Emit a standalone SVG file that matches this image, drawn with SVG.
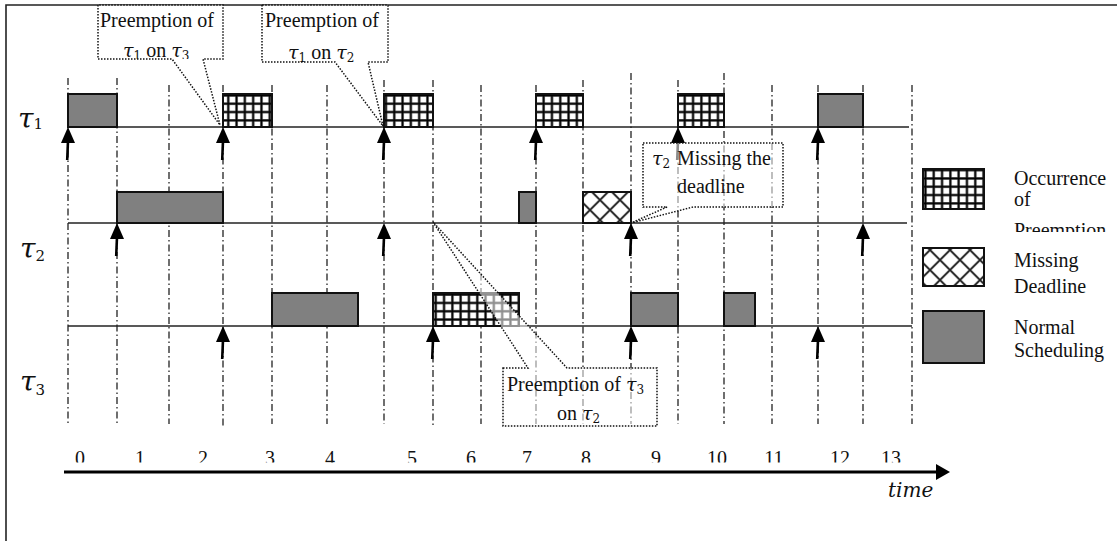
<svg xmlns="http://www.w3.org/2000/svg" width="1117" height="541" viewBox="0 0 1117 541">
  <style>
    .frame { fill: none; stroke: #222; stroke-width: 1.6; }
    .grid line { stroke: #222; stroke-width: 1.3; stroke-dasharray: 7 3 1.5 3; }
    .base { stroke: #222; stroke-width: 1.6; }
    .run { fill: #808080; stroke: #111; stroke-width: 2; }
    .pre { fill: url(#grid); stroke: #111; stroke-width: 2; }
    .miss { fill: url(#diamond); stroke: #111; stroke-width: 2; }
    .rel polygon { fill: #000; }
    .rel line { stroke: #000; stroke-width: 2.6; }
    .note { fill: #fff; fill-opacity: 0.55; stroke: #111; stroke-width: 1.5; stroke-dasharray: 1.5 1.5; }
    .t { font-family: "Liberation Serif", "Times New Roman", serif; font-size: 20px; fill: #111; }
    .g { font-family: "DejaVu Serif", serif; font-style: italic; font-size: 19px; }
    .s { font-family: "DejaVu Serif", serif; font-style: normal; font-size: 12px; }
    .lab { font-family: "DejaVu Serif", serif; font-style: italic; font-size: 28px; fill: #111; }
    .labs { font-family: "DejaVu Serif", serif; font-style: normal; font-size: 15px; }
    .axis { stroke: #000; stroke-width: 3.2; }
  </style>
  <defs>
    <pattern id="grid" width="8.3" height="8.3" patternUnits="userSpaceOnUse">
      <rect width="8.3" height="8.3" fill="#fff"/>
      <path d="M4.15,0 V8.3 M0,4.15 H8.3" stroke="#888" stroke-width="2.9"/>
      <path d="M4.15,0 V8.3 M0,4.15 H8.3" stroke="#000" stroke-width="1.7"/>
    </pattern>
    <pattern id="diamond" width="20" height="20" patternUnits="userSpaceOnUse">
      <rect width="20" height="20" fill="#fff"/>
      <path d="M0,0 L20,20 M20,0 L0,20" stroke="#888" stroke-width="2.6"/>
      <path d="M0,0 L20,20 M20,0 L0,20" stroke="#222" stroke-width="1.3"/>
    </pattern>
    <clipPath id="c1"><rect x="98" y="5" width="125" height="54"/></clipPath>
    <clipPath id="c2"><rect x="262" y="5" width="126" height="57"/></clipPath>
    <clipPath id="c4"><rect x="503" y="368" width="154" height="58"/></clipPath>
    <clipPath id="cnum"><rect x="0" y="430" width="1117" height="32.5"/></clipPath>
    <clipPath id="cleg"><rect x="1000" y="160" width="117" height="72"/></clipPath>
  </defs>

  <!-- outer frame (left and top edges) -->
  <path class="frame" d="M6,541 V5 H1117"/>

  <!-- time slot separators -->
  <g id="grid-lines" class="grid">
    <line x1="68" y1="78" x2="68" y2="424"/>
    <line x1="117" y1="78" x2="117" y2="424"/>
    <line x1="169" y1="85" x2="169" y2="424"/>
    <line x1="223" y1="85" x2="223" y2="427"/>
    <line x1="272" y1="85" x2="272" y2="424"/>
    <line x1="327" y1="85" x2="327" y2="424"/>
    <line x1="384" y1="80" x2="384" y2="424"/>
    <line x1="433" y1="80" x2="433" y2="427"/>
    <line x1="481" y1="85" x2="481" y2="424"/>
    <line x1="536" y1="85" x2="536" y2="424"/>
    <line x1="583" y1="80" x2="583" y2="424"/>
    <line x1="631" y1="73" x2="631" y2="424"/>
    <line x1="678" y1="80" x2="678" y2="424"/>
    <line x1="724" y1="73" x2="724" y2="424"/>
    <line x1="772" y1="85" x2="772" y2="424"/>
    <line x1="818" y1="85" x2="818" y2="424"/>
    <line x1="863" y1="85" x2="863" y2="424"/>
    <line x1="912" y1="85" x2="912" y2="424"/>
  </g>

  <!-- task 1 -->
  <g id="task1">
    <text class="lab" x="18" y="128">τ<tspan class="labs" dy="1">1</tspan></text>
    <line class="base" x1="68" y1="127" x2="909" y2="127"/>
    <rect class="run" x="68" y="94" width="49" height="33"/>
    <rect class="pre" x="223" y="94" width="49" height="33"/>
    <rect class="pre" x="384" y="94" width="49" height="33"/>
    <rect class="pre" x="536" y="94" width="47" height="33"/>
    <rect class="pre" x="678" y="94" width="46" height="33"/>
    <rect class="run" x="818" y="94" width="45" height="33"/>
  </g>

  <!-- task 2 -->
  <g id="task2">
    <text class="lab" x="20" y="258">τ<tspan class="labs" dy="3">2</tspan></text>
    <line class="base" x1="68" y1="223" x2="907" y2="223"/>
    <rect class="run" x="117" y="192" width="106" height="31"/>
    <rect class="run" x="519" y="192" width="17" height="31"/>
    <rect class="miss" x="583" y="192" width="48" height="31"/>
  </g>

  <!-- task 3 -->
  <g id="task3">
    <text class="lab" x="20" y="391">τ<tspan class="labs" dy="4">3</tspan></text>
    <line class="base" x1="68" y1="326" x2="912" y2="326"/>
    <rect class="run" x="272" y="293" width="86" height="33"/>
    <rect class="pre" x="433" y="293" width="86" height="33"/>
    <rect class="run" x="631" y="293" width="47" height="33"/>
    <rect class="run" x="724" y="293" width="31" height="33"/>
  </g>

  <!-- job release arrows -->
  <g id="connectors" class="rel">
    <g transform="translate(68,127)"><polygon points="0,0 -7,16 7,16"/><line x1="0" y1="14" x2="-0.8" y2="33"/></g>
    <g transform="translate(223,127)"><polygon points="0,0 -7,16 7,16"/><line x1="0" y1="14" x2="-0.8" y2="33"/></g>
    <g transform="translate(384,127)"><polygon points="0,0 -7,16 7,16"/><line x1="0" y1="14" x2="-0.8" y2="33"/></g>
    <g transform="translate(536,127)"><polygon points="0,0 -7,16 7,16"/><line x1="0" y1="14" x2="-0.8" y2="33"/></g>
    <g transform="translate(678,127)"><polygon points="0,0 -7,16 7,16"/><line x1="0" y1="14" x2="-0.8" y2="33"/></g>
    <g transform="translate(818,127)"><polygon points="0,0 -7,16 7,16"/><line x1="0" y1="14" x2="-0.8" y2="33"/></g>

    <g transform="translate(117,223)"><polygon points="0,0 -7,16 7,16"/><line x1="0" y1="14" x2="-0.8" y2="33"/></g>
    <g transform="translate(384,223)"><polygon points="0,0 -7,16 7,16"/><line x1="0" y1="14" x2="-0.8" y2="33"/></g>
    <g transform="translate(631,223)"><polygon points="0,0 -7,16 7,16"/><line x1="0" y1="14" x2="-0.8" y2="33"/></g>
    <g transform="translate(863,223)"><polygon points="0,0 -7,16 7,16"/><line x1="0" y1="14" x2="-0.8" y2="33"/></g>

    <g transform="translate(223,326)"><polygon points="0,0 -7,16 7,16"/><line x1="0" y1="14" x2="-0.8" y2="33"/></g>
    <g transform="translate(433,326)"><polygon points="0,0 -7,16 7,16"/><line x1="0" y1="14" x2="-0.8" y2="33"/></g>
    <g transform="translate(631,326)"><polygon points="0,0 -7,16 7,16"/><line x1="0" y1="14" x2="-0.8" y2="33"/></g>
    <g transform="translate(818,326)"><polygon points="0,0 -7,16 7,16"/><line x1="0" y1="14" x2="-0.8" y2="33"/></g>
  </g>

  <!-- callouts -->
  <g id="note1">
    <path class="note" d="M98,5 V59 H172 L220,125 L203,59 H223 V5 Z"/>
    <g clip-path="url(#c1)">
      <text class="t" x="100" y="27">Preemption of</text>
      <text class="t" y="57"><tspan x="123" class="g">τ</tspan><tspan class="s" dy="3">1</tspan><tspan dy="-3"> on </tspan><tspan class="g">τ</tspan><tspan class="s" dy="3">3</tspan></text>
    </g>
  </g>
  <g id="note2">
    <path class="note" d="M262,5 V62 H335 L383,126 L368,62 H388 V5 Z"/>
    <g clip-path="url(#c2)">
      <text class="t" x="265" y="27">Preemption of</text>
      <text class="t" y="59"><tspan x="288" class="g">τ</tspan><tspan class="s" dy="3">1</tspan><tspan dy="-3"> on </tspan><tspan class="g">τ</tspan><tspan class="s" dy="3">2</tspan></text>
    </g>
  </g>
  <g id="note3">
    <path class="note" d="M643,143 H783 V207 H693 L631,223 L667,207 H643 Z"/>
    <text class="t" y="165"><tspan x="652" class="g">τ</tspan><tspan class="s" dy="3">2</tspan><tspan dy="-3" x="677">Missing the</tspan></text>
    <text class="t" x="677" y="193">deadline</text>
  </g>
  <g id="note4">
    <path class="note" d="M503,368 H528 L433,222 L567,368 H657 V426 H503 Z"/>
    <g clip-path="url(#c4)">
      <text class="t" y="391"><tspan x="507">Preemption of </tspan><tspan class="g">τ</tspan><tspan class="s" dy="3">3</tspan></text>
      <text class="t" y="420"><tspan x="557">on </tspan><tspan class="g">τ</tspan><tspan class="s" dy="3">2</tspan></text>
    </g>
  </g>

  <!-- time axis -->
  <g id="time-axis">
    <line class="axis" x1="64" y1="472" x2="938" y2="472"/>
    <polygon points="936,464 950,472 936,480" fill="#000"/>
    <g clip-path="url(#cnum)" class="t" text-anchor="middle">
      <text x="80" y="464.5">0</text>
      <text x="140" y="464.5">1</text>
      <text x="203" y="464.5">2</text>
      <text x="270" y="464.5">3</text>
      <text x="330" y="464.5">4</text>
      <text x="412" y="464.5">5</text>
      <text x="471" y="464.5">6</text>
      <text x="527" y="464.5">7</text>
      <text x="586" y="464.5">8</text>
      <text x="656" y="464.5">9</text>
      <text x="717" y="464.5">10</text>
      <text x="774" y="464.5">11</text>
      <text x="840" y="464.5">12</text>
      <text x="891" y="464.5">13</text>
    </g>
    <text x="888" y="497" font-family="DejaVu Serif, serif" font-style="italic" font-size="20" fill="#111">time</text>
  </g>

  <!-- legend -->
  <g id="legend">
    <rect class="pre" x="923" y="169" width="61" height="40"/>
    <g clip-path="url(#cleg)">
      <text class="t" x="1014" y="185">Occurrence</text>
      <text class="t" x="1014" y="206">of</text>
      <text class="t" x="1014" y="237">Preemption</text>
    </g>
    <rect class="miss" x="923" y="248" width="61" height="38"/>
    <text class="t" x="1014" y="267">Missing</text>
    <text class="t" x="1014" y="293">Deadline</text>
    <rect class="run" x="923" y="311" width="61" height="52"/>
    <text class="t" x="1014" y="334">Normal</text>
    <text class="t" x="1014" y="357">Scheduling</text>
  </g>
</svg>
